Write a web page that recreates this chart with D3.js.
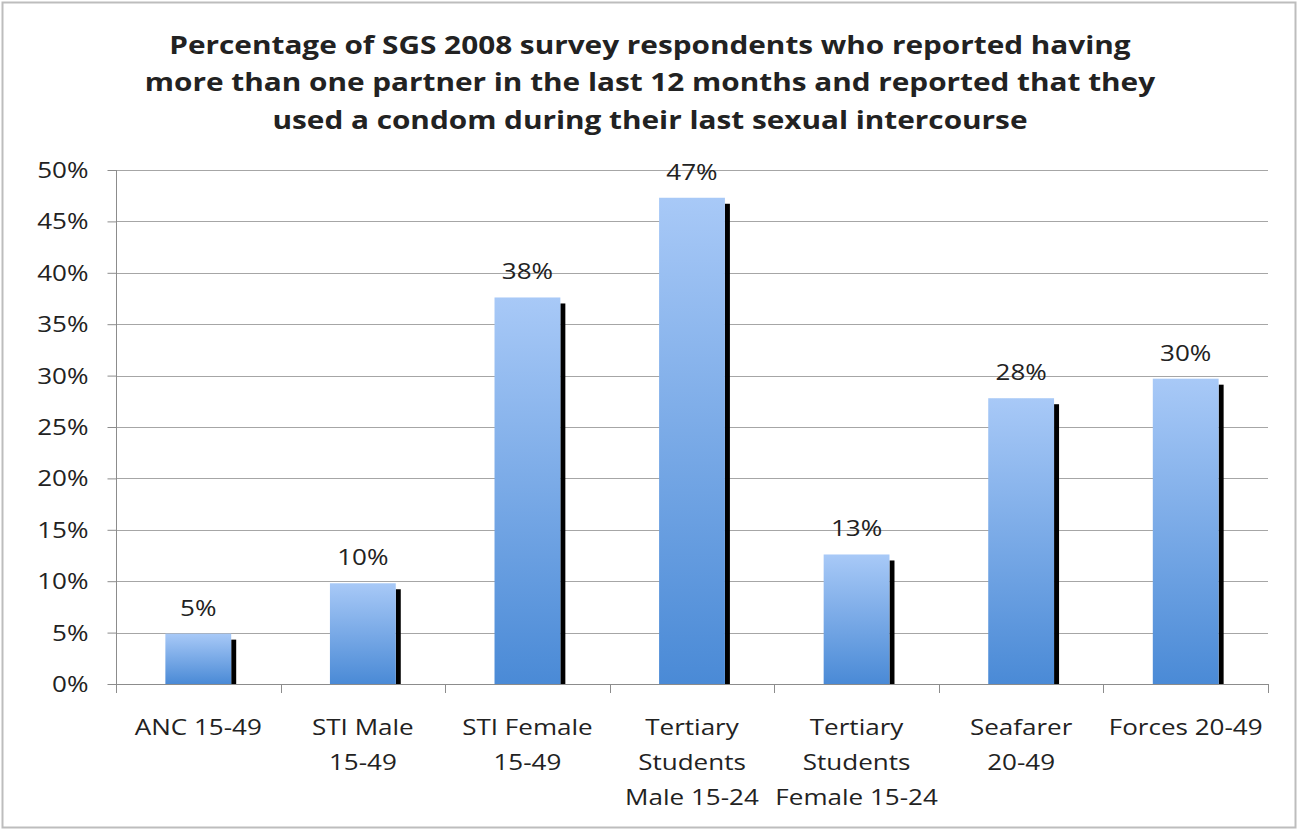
<!DOCTYPE html>
<meta charset="utf-8">
<script src="https://d3js.org/d3.v7.min.js"></script>
<style>
  body { margin: 0; background: #fff; }
  svg text { font-family: "Open Sans", "DejaVu Sans", sans-serif; fill: #222; }
</style>
<body>
<div id="chart"></div>
<script>
  // chart data
  var categories = [
    ["ANC 15-49"],
    ["STI Male", "15-49"],
    ["STI Female", "15-49"],
    ["Tertiary", "Students", "Male 15-24"],
    ["Tertiary", "Students", "Female 15-24"],
    ["Seafarer", "20-49"],
    ["Forces 20-49"]
  ];
  var values = [4.9, 9.8, 37.6, 47.3, 12.6, 27.8, 29.7];
  var yTicks = [0, 5, 10, 15, 20, 25, 30, 35, 40, 45, 50];
  var titleLines = [
    "Percentage of SGS 2008 survey respondents who reported having",
    "more than one partner in the last 12 months and reported that they",
    "used a condom during their last sexual intercourse"
  ];

  var W = 1298, H = 831;
  var margin = {top: 170, right: 30, bottom: 147, left: 116};
  var width = W - margin.left - margin.right,
      height = H - margin.top - margin.bottom;

  // the original text is wide, stretch glyphs horizontally around their anchor
  var stretch = 1.24, titleStretch = 1.19;
  function widen(x0, s) {
    return "translate(" + x0 + ",0) scale(" + s + ",1) translate(" + (-x0) + ",0)";
  }

  var svg = d3.select("#chart").append("svg")
      .attr("width", W)
      .attr("height", H);

  // outer frame
  svg.append("rect")
    .attr("x", 2.5).attr("y", 2.5)
    .attr("width", W - 5).attr("height", H - 6)
    .attr("fill", "#fff")
    .attr("stroke", "#bdbdbd")
    .attr("stroke-width", 2);

  var defs = svg.append("defs");
  var grad = defs.append("linearGradient")
    .attr("id", "barGrad")
    .attr("x1", 0).attr("y1", 0).attr("x2", 0).attr("y2", 1);
  grad.append("stop").attr("offset", "0%").attr("stop-color", "#a8c9f7");
  grad.append("stop").attr("offset", "100%").attr("stop-color", "#4a8ad6");

  // title
  svg.append("text")
    .attr("text-anchor", "middle")
    .attr("transform", widen(650, titleStretch))
    .style("font-size", "25px")
    .style("font-weight", "bold")
    .selectAll("tspan")
    .data(titleLines)
    .enter().append("tspan")
      .attr("x", 650)
      .attr("y", function(d, i) { return 54 + i * 37.5; })
      .text(function(d) { return d; });

  var g = svg.append("g")
    .attr("transform", "translate(" + margin.left + "," + margin.top + ")");

  var x = d3.scaleBand()
    .domain(d3.range(categories.length))
    .range([0, width])
    .padding(0);

  var y = d3.scaleLinear()
    .domain([0, 50])
    .range([height, 0]);

  // gridlines
  g.append("g")
    .selectAll("line")
    .data(yTicks.slice(1))
    .enter().append("line")
      .attr("x1", 0).attr("x2", width)
      .attr("y1", function(d) { return Math.round(y(d)) + 0.5; })
      .attr("y2", function(d) { return Math.round(y(d)) + 0.5; })
      .attr("stroke", "#a6a6a6")
      .attr("stroke-width", 1);

  // y axis
  var yAxis = g.append("g")
    .attr("transform", "translate(0.5,0)")
    .call(d3.axisLeft(y)
      .tickValues(yTicks)
      .tickSize(9)
      .tickPadding(19)
      .tickFormat(function(d) { return d + "%"; }));
  yAxis.select(".domain").attr("stroke", "#8c8c8c").attr("d", "M0," + height + "V0");
  yAxis.selectAll(".tick line").attr("stroke", "#8c8c8c");
  yAxis.selectAll("text")
    .style("font-size", "21px")
    .attr("fill", "#222")
    .attr("dy", "0.36em")
    .attr("transform", widen(-28, stretch));

  // x axis line and ticks at band edges
  g.append("line")
    .attr("x1", 0).attr("x2", width)
    .attr("y1", height + 0.5).attr("y2", height + 0.5)
    .attr("stroke", "#8c8c8c");
  g.append("g")
    .selectAll("line")
    .data(d3.range(categories.length + 1))
    .enter().append("line")
      .attr("x1", function(d) { return Math.round(d * x.step()) + 0.5; })
      .attr("x2", function(d) { return Math.round(d * x.step()) + 0.5; })
      .attr("y1", height).attr("y2", height + 9)
      .attr("stroke", "#8c8c8c");

  var barW = x.bandwidth() * 0.4;
  var shadowW = 5, shadowDrop = 6;

  var bars = g.append("g")
    .selectAll("g")
    .data(values)
    .enter().append("g");

  // black shadow to the right
  bars.append("rect")
    .attr("x", function(d, i) { return x(i) + x.bandwidth() / 2 + barW / 2; })
    .attr("y", function(d) { return y(d) + shadowDrop; })
    .attr("width", shadowW)
    .attr("height", function(d) { return height - y(d) - shadowDrop; })
    .attr("fill", "#000");

  bars.append("rect")
    .attr("x", function(d, i) { return x(i) + x.bandwidth() / 2 - barW / 2; })
    .attr("y", function(d) { return y(d); })
    .attr("width", barW)
    .attr("height", function(d) { return height - y(d); })
    .attr("fill", "url(#barGrad)");

  // value labels
  bars.append("text")
    .attr("x", function(d, i) { return x(i) + x.bandwidth() / 2; })
    .attr("y", function(d) { return y(d) - 18; })
    .attr("text-anchor", "middle")
    .attr("transform", function(d, i) { return widen(x(i) + x.bandwidth() / 2, stretch); })
    .style("font-size", "21px")
    .text(function(d) { return Math.round(d) + "%"; });

  // category labels
  var cat = g.append("g")
    .selectAll("text")
    .data(categories)
    .enter().append("text")
      .attr("text-anchor", "middle")
      .attr("transform", function(d, i) { return widen(x(i) + x.bandwidth() / 2, stretch); })
      .style("font-size", "21px");
  cat.selectAll("tspan")
    .data(function(d, i) { return d.map(function(s) { return {s: s, i: i}; }); })
    .enter().append("tspan")
      .attr("x", function(d) { return x(d.i) + x.bandwidth() / 2; })
      .attr("y", function(d, j) { return height + 51 + j * 35; })
      .text(function(d) { return d.s; });
</script>
</body>
